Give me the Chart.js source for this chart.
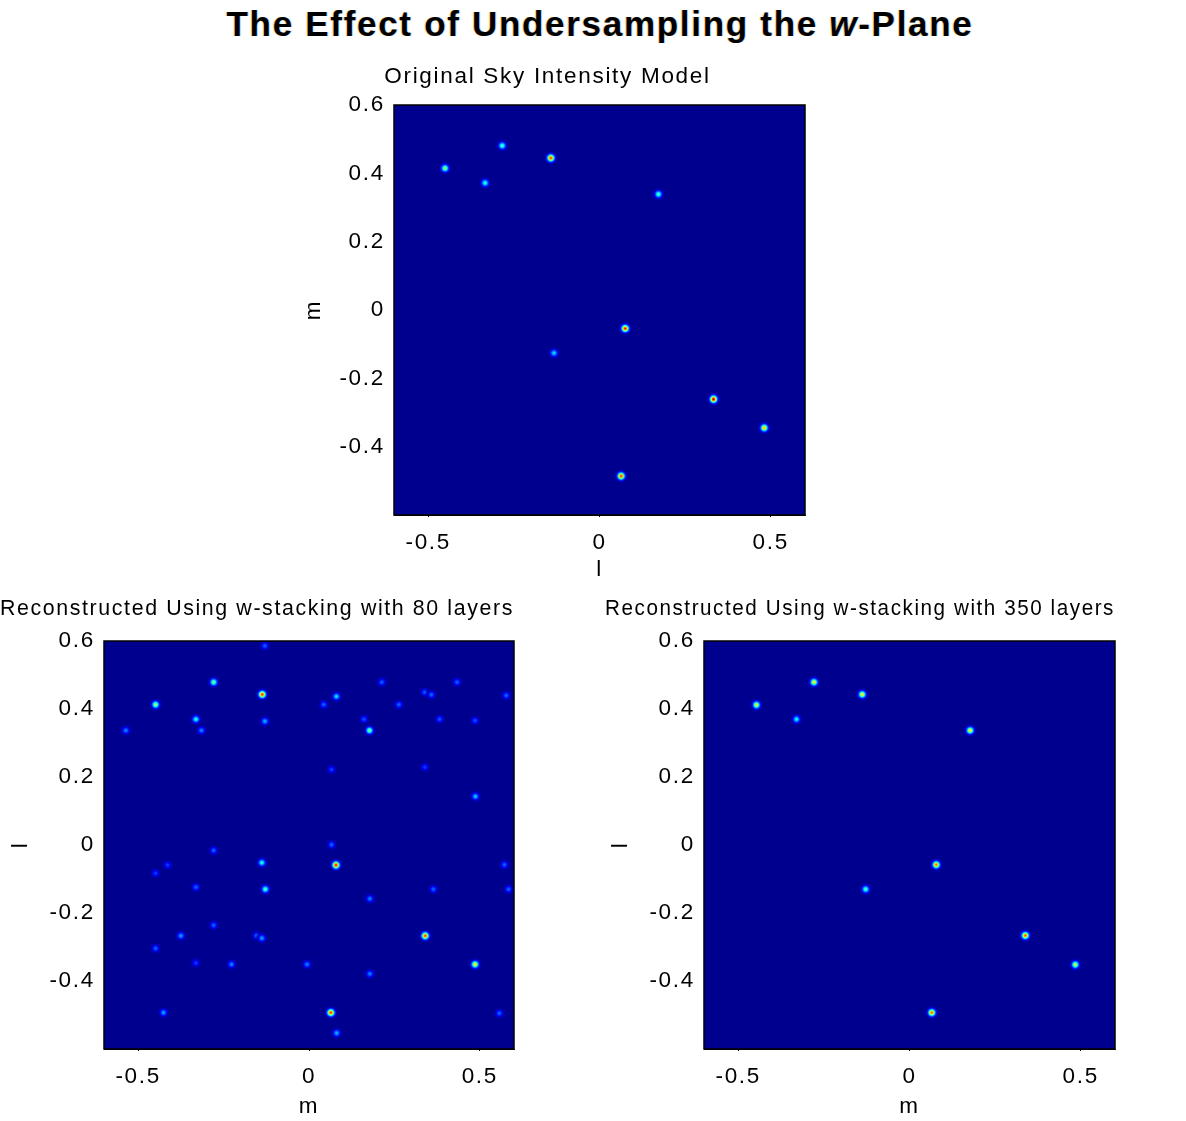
<!DOCTYPE html>
<html>
<head>
<meta charset="utf-8">
<title>The Effect of Undersampling the w-Plane</title>
<script src="https://cdn.jsdelivr.net/npm/chart.js@4.4.1/dist/chart.umd.min.js"></script>
<style>
    html, body { margin: 0; padding: 0; background: #fff; }
    body { width: 1186px; height: 1121px; position: relative; overflow: hidden; font-family: "Liberation Sans", Arial, sans-serif; }
    #suptitle {
        position: absolute; left: 0; top: 4px; width: 1200px; text-align: center;
        font-size: 35px; font-weight: bold; letter-spacing: 1.7px; line-height: 40px; color: #000;
        text-shadow: -1px 0 rgba(240, 150, 0, 0.45), 1px 0 rgba(60, 170, 255, 0.35);
    }
    .panel { position: absolute; }
</style>
</head>
<body>
<div id="suptitle">The Effect of Undersampling the <i>w</i>-Plane</div>
<div class="panel" style="left:290px;top:60px"><canvas id="model" width="612" height="525"></canvas></div>
<div class="panel" style="left:0px;top:590px"><canvas id="w80" width="584" height="531"></canvas></div>
<div class="panel" style="left:605px;top:590px"><canvas id="w350" width="589" height="531"></canvas></div>

<script>
// ticks shared by the three panels
const xTicks = [-0.5, 0, 0.5];
const yTicks = [0.6, 0.4, 0.2, 0, -0.2, -0.4];

// original sky model: source positions and peak brightness (0..1 of colour scale)
const modelX = [-0.451, -0.284, -0.142, -0.334, 0.172, 0.075, -0.133, 0.333, 0.481, 0.063];
const modelY = [0.415, 0.481, 0.445, 0.372, 0.339, -0.054, -0.126, -0.261, -0.345, -0.486];
const modelPeak = [0.55, 0.45, 0.85, 0.42, 0.45, 0.88, 0.35, 0.95, 0.72, 0.85];

// w-stacking, 80 layers: real sources plus aliased ghosts
const w80X = [-0.129, -0.279, -0.137, -0.449, -0.331, -0.129, -0.536, -0.315, 0.080, 0.043,
              0.177, 0.161, 0.213, 0.263, 0.339, 0.358, 0.433, 0.382, 0.486, 0.577,
              0.066, 0.339, 0.487, 0.066, -0.279, -0.138, 0.079, -0.414, -0.449, 0.572,
              -0.331, -0.128, 0.364, 0.584, 0.178, -0.279, -0.375, -0.153, -0.138, 0.340,
              -0.449, -0.331, -0.227, -0.006, 0.486, 0.178, -0.426, 0.064, 0.557, 0.081];
const w80Y = [0.586, 0.479, 0.443, 0.413, 0.370, 0.364, 0.337, 0.337, 0.437, 0.413,
              0.337, 0.370, 0.479, 0.413, 0.449, 0.442, 0.479, 0.370, 0.366, 0.440,
              0.222, 0.229, 0.143, 0.001, -0.016, -0.052, -0.059, -0.059, -0.083, -0.058,
              -0.124, -0.130, -0.130, -0.130, -0.158, -0.236, -0.267, -0.267, -0.274, -0.267,
              -0.304, -0.347, -0.351, -0.351, -0.351, -0.379, -0.493, -0.493, -0.495, -0.553];
const w80Peak = [0.22, 0.5, 0.85, 0.55, 0.4, 0.3, 0.25, 0.25, 0.35, 0.22,
                 0.5, 0.2, 0.22, 0.22, 0.22, 0.22, 0.22, 0.2, 0.2, 0.22,
                 0.18, 0.18, 0.32, 0.22, 0.22, 0.4, 0.9, 0.18, 0.18, 0.22,
                 0.22, 0.45, 0.22, 0.22, 0.25, 0.22, 0.28, 0.25, 0.28, 0.85,
                 0.22, 0.18, 0.25, 0.25, 0.65, 0.25, 0.28, 0.85, 0.22, 0.3];

// w-stacking, 350 layers
const w350X = [-0.447, -0.279, -0.138, -0.330, 0.177, 0.078, -0.128, 0.338, 0.484, 0.065];
const w350Y = [0.412, 0.479, 0.443, 0.370, 0.337, -0.058, -0.130, -0.266, -0.352, -0.493];
const w350Peak = [0.62, 0.65, 0.65, 0.38, 0.65, 0.8, 0.45, 0.82, 0.6, 0.8];

Chart.defaults.font.family = "'Liberation Sans', Arial, sans-serif";
Chart.defaults.font.size = 22.5;
Chart.defaults.color = "#000";

const SPACING = "1.7px";
const BG = "rgb(0,0,143)";

// matlab style jet colour map
function jet(v) {
    const u = 0.0156 + 0.9844 * v;
    const c = t => Math.max(0, Math.min(1, 1.5 - Math.abs(4 * u - t)));
    return [c(3), c(2), c(1)].map(k => Math.round(k * 255));
}

// small gaussian spot used as the point marker
function blob(peak) {
    const r = 7, n = 2 * r + 1;
    const cv = document.createElement("canvas");
    cv.width = cv.height = n;
    const g = cv.getContext("2d");
    const img = g.createImageData(n, n);
    for (let j = 0; j < n; j++) {
        for (let i = 0; i < n; i++) {
            const d2 = (i - r) ** 2 + (j - r) ** 2;
            const v = peak * Math.exp(-d2 / 10.6);
            const rgb = jet(v);
            const k = 4 * (j * n + i);
            img.data[k] = rgb[0];
            img.data[k + 1] = rgb[1];
            img.data[k + 2] = rgb[2];
            img.data[k + 3] = Math.min(255, Math.round(255 * v / 0.03));
        }
    }
    g.putImageData(img, 0, 0);
    return cv;
}

const spacing = {
    id: "spacing",
    beforeLayout(chart) { chart.ctx.letterSpacing = SPACING; },
    beforeDraw(chart) { chart.ctx.letterSpacing = SPACING; }
};

// dark blue image background + black box round the axes
const frame = {
    id: "frame",
    beforeDatasetsDraw(chart) {
        const { ctx, chartArea: a } = chart;
        ctx.save();
        ctx.fillStyle = BG;
        ctx.fillRect(a.left, a.top, a.right - a.left, a.bottom - a.top);
        ctx.restore();
    },
    afterDraw(chart) {
        const { ctx, chartArea: a } = chart;
        ctx.save();
        ctx.strokeStyle = "#000";
        ctx.lineWidth = 1.5;
        ctx.strokeRect(a.left, a.top, a.right - a.left, a.bottom - a.top);
        ctx.restore();
    }
};

function panel(id, opt) {
    const blobs = opt.peak.map(blob);
    return new Chart(document.getElementById(id), {
        type: "scatter",
        data: {
            datasets: [{
                data: opt.x.map((x, i) => ({ x: x, y: opt.y[i] })),
                pointStyle: c => blobs[c.dataIndex],
                radius: 3,
                clip: 0
            }]
        },
        options: {
            responsive: false,
            animation: false,
            events: [],
            layout: { padding: opt.pad },
            plugins: {
                legend: { display: false },
                tooltip: { enabled: false },
                title: {
                    display: true,
                    text: opt.title,
                    color: "#000",
                    font: { weight: "normal" },
                    padding: { top: 0, bottom: opt.titleGap }
                }
            },
            scales: {
                x: {
                    type: "linear",
                    min: -0.6,
                    max: 0.6,
                    afterBuildTicks: s => { s.ticks = xTicks.map(value => ({ value })); },
                    afterFit: s => { s.height = opt.xAxisH; },
                    ticks: { color: "#000", padding: 12, maxRotation: 0, autoSkip: false, callback: v => String(v) },
                    grid: { drawOnChartArea: false, drawTicks: true, tickLength: 2, color: "#000" },
                    border: { color: "#000" },
                    title: { display: true, text: opt.xTitle, color: "#000", padding: { top: 0, bottom: opt.xTitlePad } }
                },
                y: {
                    type: "linear",
                    min: -0.6,
                    max: 0.6,
                    afterBuildTicks: s => { s.ticks = yTicks.map(value => ({ value })); },
                    afterFit: s => { s.width = opt.yAxisW; },
                    ticks: { color: "#000", padding: 9, autoSkip: false, callback: v => String(v) },
                    grid: { drawOnChartArea: false, drawTicks: false, color: "#000" },
                    border: { color: "#000" },
                    title: { display: true, text: opt.yTitle, color: "#000", padding: { top: opt.yTitlePad, bottom: 0 } }
                }
            }
        },
        plugins: [spacing, frame]
    });
}

panel("model", {
    title: "Original Sky Intensity Model", xTitle: "l", yTitle: "m",
    x: modelX, y: modelY, peak: modelPeak,
    pad: { left: 0, top: 3.5, right: 97, bottom: 0 },
    titleGap: 14.5, xAxisH: 70, yAxisW: 104, xTitlePad: 1.5, yTitlePad: 10.5
});

panel("w80", {
    title: "Reconstructed Using w-stacking with 80 layers", xTitle: "m", yTitle: "l",
    x: w80X, y: w80Y, peak: w80Peak,
    pad: { left: 0, top: 5.5, right: 70, bottom: 0 },
    titleGap: 18.5, xAxisH: 72, yAxisW: 104, xTitlePad: 0.5, yTitlePad: 7.5
});

panel("w350", {
    title: "Reconstructed Using w-stacking with 350 layers", xTitle: "m", yTitle: "l",
    x: w350X, y: w350Y, peak: w350Peak,
    pad: { left: 0, top: 5.5, right: 79, bottom: 0 },
    titleGap: 18.5, xAxisH: 72, yAxisW: 99, xTitlePad: 0.5, yTitlePad: 2.5
});
</script>
</body>
</html>
